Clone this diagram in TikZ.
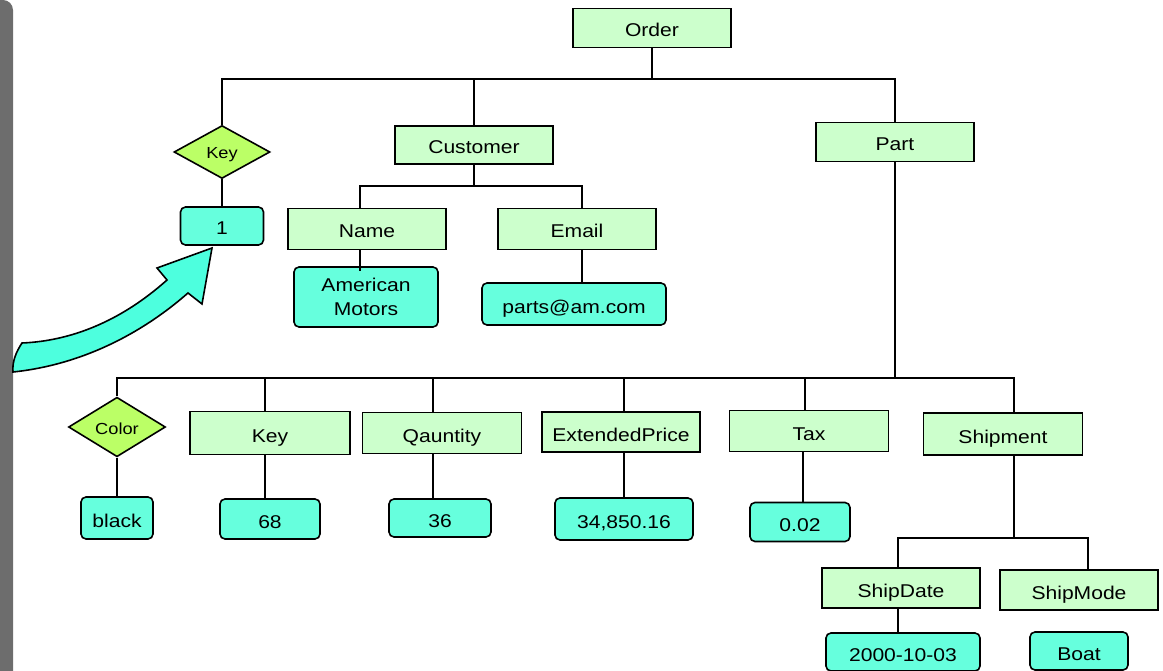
\documentclass[tikz,border=0pt]{standalone}
\usepackage{fontspec}
\setmainfont{Liberation Sans}[FakeStretch=1.14]
\usetikzlibrary{shapes.geometric}
\definecolor{elemfill}{HTML}{CCFFCC}
\definecolor{valfill}{HTML}{66FFDD}
\definecolor{attrfill}{HTML}{BBFF66}
\definecolor{arrowfill}{HTML}{4DFFDE}
\definecolor{barcol}{HTML}{6D6D6D}
\tikzset{
  every node/.style={font=\fontsize{18.5}{24}\selectfont, inner sep=0pt, text height=19pt, text depth=1pt},
  elem/.style={draw, fill=elemfill, line width=1.6pt, minimum width=158pt, minimum height=40pt},
  val/.style={draw, fill=valfill, line width=1.6pt, rounded corners=5pt, minimum height=40pt, align=center},
  attr/.style={draw, diamond, fill=attrfill, line width=1.6pt, minimum width=96pt, minimum height=53pt,
    font=\fontsize{16}{20}\selectfont, text height=15pt, text depth=1pt},
  link/.style={line width=1.6pt}
}
\begin{document}
\begin{tikzpicture}[x=1pt,y=-1pt]
\useasboundingbox (0,0) rectangle (1163,671);
% side bar
\fill[barcol, rounded corners=10pt] (-30,0) rectangle (13,700);

% top level
\node[elem, minimum height=39pt] (order) at (652,28) {Order};
\node[attr] (keyd) at (222,152) {Key};
\node[val, minimum width=83pt, minimum height=38pt] (one) at (222,226) {1};
\node[elem, minimum height=38pt] (cust) at (474,145) {Customer};
\node[elem, minimum height=39pt] (part) at (895,142) {Part};

% customer subtree
\node[elem, minimum height=41pt] (name) at (367,229) {Name};
\node[elem, minimum height=41pt] (email) at (577,229) {Email};
\node[val, minimum width=144pt, minimum height=60pt, text height={}, text depth={}] (amer) at (366,297) {American\\Motors};
\node[val, minimum width=184pt, minimum height=42pt] (parts) at (574,304) {parts@am.com};

% part subtree
\node[attr, minimum width=97pt, minimum height=52pt] (color) at (117,427) {Color};
\node[val, minimum width=72pt, minimum height=42pt] (black) at (117,518) {black};
\node[elem, minimum width=160pt, minimum height=43pt] (key2) at (270,433) {Key};
\node[val, minimum width=100pt] (v68) at (270,519) {68};
\node[elem, minimum width=159pt, minimum height=41pt] (qty) at (442,433) {Qauntity};
\node[val, minimum width=102pt, minimum height=38pt] (v36) at (440,518) {36};
\node[elem] (ext) at (621,432) {ExtendedPrice};
\node[val, minimum width=138pt, minimum height=42pt] (v34) at (624,519) {34,850.16};
\node[elem, minimum width=159pt, minimum height=41pt] (tax) at (809,431) {Tax};
\node[val, minimum width=100pt, minimum height=39pt] (v002) at (800,522) {0.02};
\node[elem, minimum width=159pt, minimum height=42pt] (ship) at (1003,434) {Shipment};

% shipment subtree
\node[elem] (sd) at (901,588) {ShipDate};
\node[elem] (sm) at (1079,590) {ShipMode};
\node[val, minimum width=154pt, minimum height=38pt] (v2000) at (903,652) {2000-10-03};
\node[val, minimum width=98pt, minimum height=38pt] (boat) at (1079,651) {Boat};

% bus levels
\coordinate (tb) at (0,79);
\coordinate (cb) at (0,186);
\coordinate (pb) at (0,378);
\coordinate (sb) at (0,538);

% Order children
\draw[link] (order.south) -- (order.south |- tb);
\draw[link] (keyd.north) -- (keyd.north |- tb) -- (part.north |- tb) -- (part.north);
\draw[link] (cust.north) -- (cust.north |- tb);
\draw[link] (keyd.south) -- (one.north);

% Customer children
\draw[link] (cust.south) -- (cust.south |- cb);
\draw[link] ([xshift=-7pt]name.north) -- ([xshift=-7pt]name.north |- cb)
  -- ([xshift=5pt]email.north |- cb) -- ([xshift=5pt]email.north);
\draw[link] ([xshift=-7pt]name.south) -- ([xshift=-7pt,yshift=-5pt]name.south |- amer.north);
\draw[link] ([xshift=5pt]email.south) -- ([xshift=5pt]email.south |- parts.north);

% Part children
\draw[link] (part.south) -- (part.south |- pb);
\draw[link] (color.north) -- (color.north |- pb) -- ([xshift=11pt]ship.north |- pb) -- ([xshift=11pt]ship.north);
\draw[link] ([xshift=-5pt]key2.north) -- ([xshift=-5pt]key2.north |- pb);
\draw[link] ([xshift=-9pt]qty.north) -- ([xshift=-9pt]qty.north |- pb);
\draw[link] ([xshift=3pt]ext.north) -- ([xshift=3pt]ext.north |- pb);
\draw[link] ([xshift=-4pt]tax.north) -- ([xshift=-4pt]tax.north |- pb);

% attribute values
\draw[link] (color.south) -- (black.north);
\draw[link] ([xshift=-5pt]key2.south) -- ([xshift=-5pt]key2.south |- v68.north);
\draw[link] ([xshift=-9pt]qty.south) -- ([xshift=-9pt]qty.south |- v36.north);
\draw[link] ([xshift=3pt]ext.south) -- ([xshift=3pt]ext.south |- v34.north);
\draw[link] ([xshift=-6pt]tax.south) -- ([xshift=-6pt]tax.south |- v002.north);

% Shipment children
\draw[link] ([xshift=11pt]ship.south) -- ([xshift=11pt]ship.south |- sb);
\draw[link] ([xshift=-3pt]sd.north) -- ([xshift=-3pt]sd.north |- sb) -- ([xshift=9pt]sm.north |- sb) -- ([xshift=9pt]sm.north);
\draw[link] ([xshift=-3pt]sd.south) -- ([xshift=-3pt]sd.south |- v2000.north);

% curved pointer arrow
\filldraw[fill=arrowfill, draw=black, line width=1.6pt, line join=miter]
  (22,343) .. controls (70,341) and (120,322) .. (167,280)
  -- (157,268) -- (212,248) -- (202,304) -- (188,293)
  .. controls (140,335) and (80,365) .. (13,372)
  .. controls (12,362) and (16,352) .. (22,343) -- cycle;
\end{tikzpicture}
\end{document}
